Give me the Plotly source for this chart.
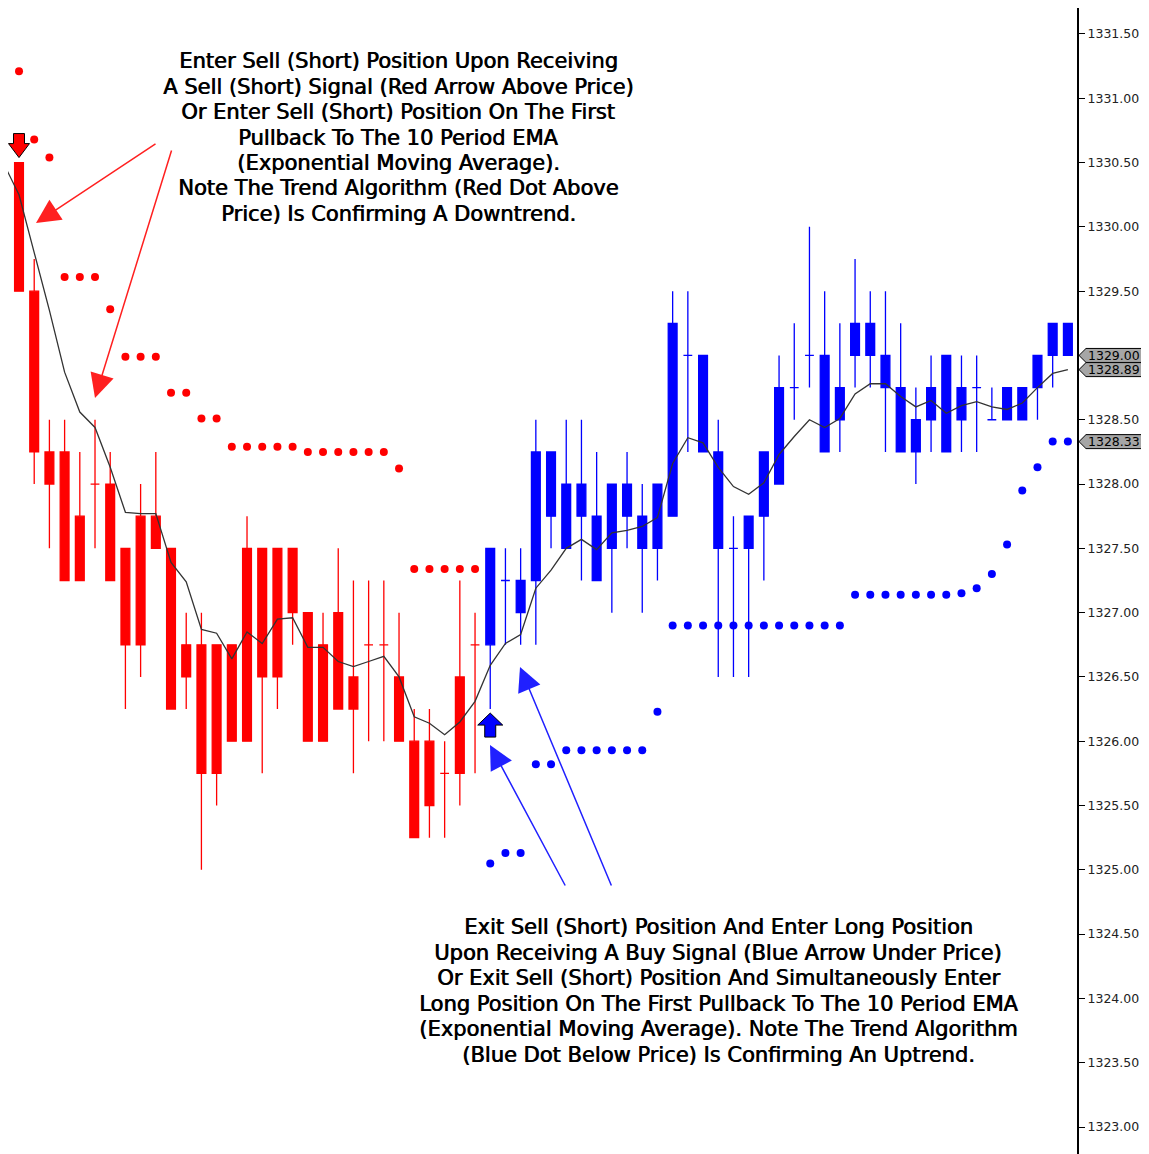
import plotly.graph_objects as go

# ---------------- data ----------------
bar_index = list(range(70))
trend = ["down"] * 31 + ["up"] * 39

opens = [1330.50, 1329.50, 1328.25, 1328.25, 1327.75, 1328.00, 1328.00, 1327.50, 1327.75, 1327.75,
         1327.50, 1326.75, 1326.75, 1326.75, 1326.75, 1327.50, 1327.50, 1327.50, 1327.50, 1327.00,
         1326.75, 1327.00, 1326.50, 1326.75, 1326.75, 1326.50, 1326.00, 1326.00, 1325.75, 1326.50,
         1326.75,
         1326.75, 1327.25, 1327.00, 1327.25, 1327.75, 1327.50, 1327.75, 1327.25, 1327.50, 1327.75,
         1327.50, 1327.50, 1327.75, 1329.00, 1328.25, 1327.50, 1327.50, 1327.50, 1327.75, 1328.00,
         1328.75, 1329.00, 1328.25, 1328.50, 1329.00, 1329.00, 1328.75, 1328.25, 1328.25, 1328.50,
         1328.25, 1328.50, 1328.75, 1328.50, 1328.50, 1328.50, 1328.75, 1329.00, 1329.25]
highs = [1330.50, 1329.75, 1328.50, 1328.50, 1328.25, 1328.50, 1328.25, 1327.50, 1328.00, 1328.25,
         1327.50, 1327.00, 1327.00, 1326.75, 1326.75, 1327.75, 1327.50, 1327.50, 1327.50, 1327.00,
         1327.00, 1327.50, 1327.25, 1327.25, 1327.25, 1327.00, 1326.25, 1326.25, 1326.00, 1327.25,
         1327.00,
         1327.50, 1327.50, 1327.50, 1328.50, 1328.25, 1328.50, 1328.50, 1328.25, 1328.00, 1328.25,
         1328.00, 1328.00, 1329.50, 1329.50, 1329.00, 1328.50, 1327.75, 1327.75, 1328.25, 1329.00,
         1329.25, 1330.00, 1329.50, 1329.25, 1329.75, 1329.50, 1329.50, 1329.25, 1328.75, 1329.00,
         1329.00, 1329.00, 1329.00, 1328.75, 1328.75, 1328.75, 1329.00, 1329.25, 1329.25]
lows = [1329.50, 1328.00, 1327.50, 1327.25, 1327.25, 1327.50, 1327.25, 1326.25, 1326.50, 1327.50,
        1326.25, 1326.25, 1325.00, 1325.50, 1326.00, 1326.00, 1325.75, 1326.25, 1326.75, 1326.00,
        1326.00, 1326.25, 1325.75, 1326.00, 1326.00, 1326.00, 1325.25, 1325.25, 1325.25, 1325.50,
        1325.75,
        1326.25, 1326.75, 1326.75, 1326.75, 1327.50, 1327.50, 1327.25, 1327.25, 1327.00, 1327.50,
        1327.00, 1327.25, 1327.75, 1328.25, 1328.25, 1326.50, 1326.50, 1326.50, 1327.25, 1328.00,
        1328.50, 1328.75, 1328.25, 1328.25, 1328.75, 1328.75, 1328.25, 1328.25, 1328.00, 1328.25,
        1328.25, 1328.25, 1328.25, 1328.50, 1328.50, 1328.50, 1328.50, 1328.75, 1329.00]
closes = [1329.50, 1328.25, 1328.00, 1327.25, 1327.25, 1328.00, 1327.25, 1326.75, 1326.75, 1327.50,
          1326.25, 1326.50, 1325.75, 1325.75, 1326.00, 1326.00, 1326.50, 1326.50, 1327.00, 1326.00,
          1326.00, 1326.25, 1326.25, 1326.75, 1326.75, 1326.00, 1325.25, 1325.50, 1325.75, 1325.75,
          1326.75,
          1327.50, 1327.25, 1327.25, 1328.25, 1328.25, 1328.00, 1328.00, 1327.75, 1328.00, 1328.00,
          1327.75, 1328.00, 1329.25, 1329.00, 1329.00, 1328.25, 1327.50, 1327.75, 1328.25, 1328.75,
          1328.75, 1329.00, 1329.00, 1328.75, 1329.25, 1329.25, 1329.00, 1328.75, 1328.50, 1328.75,
          1329.00, 1328.75, 1328.75, 1328.50, 1328.75, 1328.75, 1329.00, 1329.25, 1329.00]

# 10 period EMA (first value belongs to the bar before the view)
ema_index = list(range(-1, 70))
ema_values = [1330.49,
              1330.25, 1329.80, 1329.35, 1328.87, 1328.56, 1328.44, 1328.13, 1327.78, 1327.77, 1327.77,
              1327.39, 1327.24, 1326.87, 1326.84, 1326.64, 1326.85, 1326.76, 1326.95, 1326.96, 1326.73,
              1326.73, 1326.62, 1326.58, 1326.62, 1326.66, 1326.50, 1326.19, 1326.14, 1326.05, 1326.15,
              1326.31, 1326.59, 1326.76, 1326.83, 1327.19, 1327.33, 1327.50, 1327.57, 1327.49, 1327.62,
              1327.64, 1327.67, 1327.74, 1328.16, 1328.36, 1328.32, 1328.13, 1327.98, 1327.92, 1328.01,
              1328.23, 1328.37, 1328.50, 1328.44, 1328.51, 1328.70, 1328.78, 1328.78, 1328.68, 1328.60,
              1328.65, 1328.55, 1328.61, 1328.64, 1328.60, 1328.58, 1328.63, 1328.75, 1328.86, 1328.89]

# trend algorithm dots
red_dot_index = list(range(0, 31))
red_dot_values = [1331.21, 1330.68, 1330.54, 1329.61, 1329.61, 1329.61, 1329.36, 1328.99, 1328.99, 1328.99,
                  1328.71, 1328.71, 1328.51, 1328.51, 1328.29, 1328.29, 1328.29, 1328.29, 1328.29, 1328.25,
                  1328.25, 1328.25, 1328.25, 1328.25, 1328.25, 1328.12, 1327.34, 1327.34, 1327.34, 1327.34,
                  1327.34]
blue_dot_index = list(range(31, 70))
blue_dot_values = [1325.05, 1325.13, 1325.13, 1325.82, 1325.82, 1325.93, 1325.93, 1325.93, 1325.93, 1325.93,
                   1325.93, 1326.23, 1326.90, 1326.90, 1326.90, 1326.90, 1326.90, 1326.90, 1326.90, 1326.90,
                   1326.90, 1326.90, 1326.90, 1326.90, 1327.14, 1327.14, 1327.14, 1327.14, 1327.14, 1327.14,
                   1327.14, 1327.15, 1327.19, 1327.30, 1327.53, 1327.95, 1328.13, 1328.33, 1328.33]

sell_signal_index = 0
buy_signal_index = 31

price_tick_values = [1323.0 + 0.5 * k for k in range(18)]
price_tick_labels = ["%.2f" % v for v in price_tick_values]
last_price_labels = [1329.00, 1328.89, 1328.33]

top_text = ["Enter Sell (Short) Position Upon Receiving",
            "A Sell (Short) Signal (Red Arrow Above Price)",
            "Or Enter Sell (Short) Position On The First",
            "Pullback To The 10 Period EMA",
            "(Exponential Moving Average).",
            "Note The Trend Algorithm (Red Dot Above",
            "Price) Is Confirming A Downtrend."]
bottom_text = ["Exit Sell (Short) Position And Enter Long Position",
               "Upon Receiving A Buy Signal (Blue Arrow Under Price)",
               "Or Exit Sell (Short) Position And Simultaneously Enter",
               "Long Position On The First Pullback To The 10 Period EMA",
               "(Exponential Moving Average). Note The Trend Algorithm",
               "(Blue Dot Below Price) Is Confirming An Uptrend."]

# ---------------- layout geometry (page pixels; the page body adds an 8 px margin) ----------------
OFF = 8
W, H = 1141, 1146
ML, MR, MT, MB = 0, 72, 0, 0
PW, PH = W - ML - MR, H - MT - MB


def px(xp):
    return (xp - OFF - ML) / PW


def py(yp):
    return (H - MB - (yp - OFF)) / PH


TEXT_FONT = dict(family="DejaVu Sans", size=21, color="#000000", shadow="0.7px 0px 0px #000000")

fig = go.Figure()

for name, color in (("down", "#ff0000"), ("up", "#0000ff")):
    idx = [i for i in bar_index if trend[i] == name]
    fig.add_trace(go.Candlestick(
        x=idx,
        open=[opens[i] for i in idx], high=[highs[i] for i in idx],
        low=[lows[i] for i in idx], close=[closes[i] for i in idx],
        increasing=dict(line=dict(color=color, width=1.3), fillcolor=color),
        decreasing=dict(line=dict(color=color, width=1.3), fillcolor=color),
        whiskerwidth=0, showlegend=False, hoverinfo="skip"))

fig.add_trace(go.Scatter(x=ema_index, y=ema_values, mode="lines",
                         line=dict(color="#333333", width=1.3), showlegend=False, hoverinfo="skip"))
fig.add_trace(go.Scatter(x=red_dot_index, y=red_dot_values, mode="markers",
                         marker=dict(color="#ff0000", size=8), showlegend=False, hoverinfo="skip"))
fig.add_trace(go.Scatter(x=blue_dot_index, y=blue_dot_values, mode="markers",
                         marker=dict(color="#0000ff", size=8), showlegend=False, hoverinfo="skip"))

shapes = []
# sell signal arrow above the high
shapes.append(dict(type="path", xref="x", yref="y", xsizemode="pixel", ysizemode="pixel",
                   xanchor=sell_signal_index, yanchor=highs[sell_signal_index],
                   path="M 0 5 L 10.5 19 L 5.5 19 L 5.5 29 L -5.5 29 L -5.5 19 L -10.5 19 Z",
                   fillcolor="#ff0000", line=dict(color="black", width=1)))
# buy signal arrow below the low
shapes.append(dict(type="path", xref="x", yref="y", xsizemode="pixel", ysizemode="pixel",
                   xanchor=buy_signal_index, yanchor=lows[buy_signal_index],
                   path="M 0 -4 L 12.5 -16 L 5.5 -16 L 5.5 -28 L -5.5 -28 L -5.5 -16 L -12.5 -16 Z",
                   fillcolor="#0000ff", line=dict(color="black", width=1)))
# price flags on the axis
xt, xl, xr = px(1079), px(1086), px(1143)
for v in last_price_labels:
    shapes.append(dict(type="path", xref="paper", yref="y", ysizemode="pixel", yanchor=v,
                       path="M %.5f 0 L %.5f 7 L %.5f 7 L %.5f -7 L %.5f -7 Z" % (xt, xl, xr, xr, xl),
                       fillcolor="#a6a6a6", line=dict(color="black", width=1)))

annotations = []
for v in last_price_labels:
    annotations.append(dict(xref="paper", yref="y", x=px(1114), y=v, text="%.2f" % v,
                            showarrow=False, xanchor="center", yanchor="middle",
                            font=dict(family="DejaVu Sans", size=12.5, color="black")))

top_y = [61, 87, 112, 138, 163, 188, 214]
for t, yy in zip(top_text, top_y):
    annotations.append(dict(xref="paper", yref="paper", x=px(398), y=py(yy), text=t, showarrow=False,
                            xanchor="center", yanchor="middle", font=TEXT_FONT))
bot_y = [927, 953, 978, 1004, 1029, 1055]
for t, yy in zip(bottom_text, bot_y):
    annotations.append(dict(xref="paper", yref="paper", x=px(718), y=py(yy), text=t, showarrow=False,
                            xanchor="center", yanchor="middle", font=TEXT_FONT))

# pointer arrows (head, tail) in page pixels
pointers = [((36, 223), (157, 143), "#ff2020"),
            ((95, 398), (172, 149), "#ff2020"),
            ((490, 745), (566, 887), "#2020ff"),
            ((520, 667), (612, 887), "#2020ff")]
for (hx, hy), (tx, ty), c in pointers:
    annotations.append(dict(xref="paper", yref="paper", x=px(hx), y=py(hy), text="",
                            showarrow=True, ax=tx - hx, ay=ty - hy, axref="pixel", ayref="pixel",
                            arrowhead=2, arrowsize=3.2, arrowwidth=1.5, arrowcolor=c, standoff=0))

fig.update_layout(
    width=W, height=H, margin=dict(l=ML, r=MR, t=MT, b=MB),
    paper_bgcolor="white", plot_bgcolor="white",
    shapes=shapes, annotations=annotations, showlegend=False,
    boxgap=0.42, boxgroupgap=0,
    xaxis=dict(visible=False, range=[-0.724, 69.6], fixedrange=True,
               rangeslider=dict(visible=False)),
    yaxis=dict(side="right", range=[1322.79, 1331.702], fixedrange=True,
               tickvals=price_tick_values, ticktext=price_tick_labels,
               ticks="outside", ticklen=6, tickwidth=1, tickcolor="black",
               showline=True, linecolor="black", linewidth=2, mirror=False,
               showgrid=False, zeroline=False,
               tickfont=dict(family="DejaVu Sans", size=12.5, color="#222222")),
)

fig.write_html("out.html", config={"displayModeBar": False})
